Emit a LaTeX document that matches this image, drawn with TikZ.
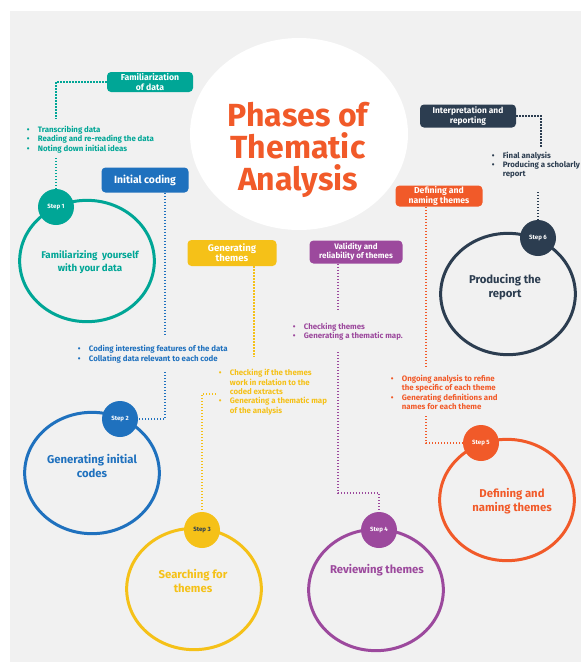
\documentclass[tikz,border=0pt]{standalone}
\usepackage{fontspec}
\setmainfont{Fira Sans}
\usetikzlibrary{shapes.geometric}
\definecolor{bggray}{RGB}{241,241,241}
\definecolor{tealc}{RGB}{0,166,150}
\definecolor{bluec}{RGB}{31,113,190}
\definecolor{yellowc}{RGB}{245,193,24}
\definecolor{purplec}{RGB}{156,73,157}
\definecolor{orangec}{RGB}{241,90,41}
\definecolor{navyc}{RGB}{44,61,80}

\begin{document}
\begin{tikzpicture}[x=0.75pt,y=0.75pt,yscale=-1,xscale=1,
	phase/.style={draw, ellipse, line width=2.25pt, minimum width=101pt, minimum height=91pt, inner sep=0pt},
	stepdot/.style={circle, minimum size=27pt, inner sep=0pt, text=white, font=\fontsize{4.6}{5}\selectfont\bfseries},
	tagbox/.style={rounded corners=3pt, inner sep=0pt, text=white, align=center, font=\fontsize{6.5}{7}\selectfont\bfseries},
	phasetxt/.style={align=center, inner sep=0pt, font=\fontsize{8.5}{10.5}\selectfont\bfseries},
	notes/.style={anchor=west, inner sep=0pt, font=\fontsize{5.9}{7}\selectfont\bfseries},
	dotline/.style={line width=1.1pt, dash pattern={on 1.1pt off 1.15pt}}]
	\useasboundingbox (0,0) rectangle (581,662);

	%Shape: Rectangle [background]
	\fill[bggray] (10,11) rectangle (581,662);
	%Shape: Ellipse [title]
	\node[ellipse, fill=white, minimum width=163.5pt, minimum height=144pt] (titleDisc) at (299,134) {};

	%Shape: Circles [phases]
	\node[phase, draw=tealc] (phase1) at (87,261) {};
	\node[phase, draw=bluec] (phase2) at (92,473) {};
	\node[phase, draw=yellowc] (phase3) at (194,589) {};
	\node[phase, draw=purplec] (phase4) at (376,590) {};
	\node[phase, draw=orangec] (phase5) at (507,500) {};
	\node[phase, draw=navyc] (phase6) at (508,294) {};

	%Shape: Rounded boxes
	\node[tagbox, fill=tealc, minimum width=64.5pt, minimum height=15pt] (famBox) at (150,82) {Familiarization\\of data};
	\node[tagbox, fill=bluec, minimum width=65.25pt, minimum height=18.75pt, font=\fontsize{7.8}{8}\selectfont\bfseries] (codeBox) at (145,180) {Initial coding};
	\node[tagbox, fill=yellowc, minimum width=66.75pt, minimum height=19.5pt, font=\fontsize{7.2}{7.4}\selectfont\bfseries] (genBox) at (232,253) {Generating\\themes};
	\node[tagbox, fill=purplec, minimum width=69.75pt, minimum height=17.25pt, font=\fontsize{6}{6.8}\selectfont\bfseries] (valBox) at (356,252) {Validity and\\reliability of themes};
	\node[tagbox, fill=orangec, minimum width=65.25pt, minimum height=15.75pt] (defBox) at (439,196) {Defining and\\naming themes};
	\node[tagbox, fill=navyc, minimum width=72pt, minimum height=17.25pt, font=\fontsize{6.3}{6.9}\selectfont\bfseries] (repBox) at (468,116) {Interpretation and\\reporting};

	%Shape: Circles [step dots]
	\node[stepdot, fill=tealc] (step1) at (56,207) {Step 1};
	\node[stepdot, fill=bluec] (step2) at (120,419) {Step 2};
	\node[stepdot, fill=yellowc, text=navyc] (step3) at (202,530) {Step 3};
	\node[stepdot, fill=purplec] (step4) at (379,530) {Step 4};
	\node[stepdot, fill=orangec] (step5) at (481,443) {Step 5};
	\node[stepdot, fill=navyc] (step6) at (538,238) {Step 6};

	%Dotted connectors
	\coordinate (famEnd) at (56,119);
	\coordinate (famStart) at (56,158);
	\draw[dotline, tealc] (famBox.west) -| (famEnd);
	\draw[dotline, tealc] (famStart) -- (step1.north);
	\coordinate (codeEnd) at (165,335);
	\coordinate (codeStart) at (165,372);
	\draw[dotline, bluec] (codeBox.south -| codeEnd) -- (codeEnd);
	\draw[dotline, bluec] (codeStart) |- (step2.east);
	\coordinate (genEnd) at (254,357);
	\coordinate (genStart) at (216,394);
	\draw[dotline, yellowc] (genBox.south -| genEnd) -- (genEnd);
	\draw[dotline, yellowc] (genStart) -| (step3.north);
	\coordinate (valEnd) at (338,310);
	\coordinate (valStart) at (338,352);
	\coordinate (valBend) at (338,493);
	\draw[dotline, purplec] (valBox.south -| valEnd) -- (valEnd);
	\draw[dotline, purplec] (valStart) -- (valBend) -| (step4.north);
	\coordinate (defEnd) at (426,367);
	\coordinate (defStart) at (426,416);
	\draw[dotline, orangec] (defBox.south -| defEnd) -- (defEnd);
	\draw[dotline, orangec] (defStart) |- (step5.west);
	\coordinate (repEnd) at (541,148);
	\coordinate (repStart) at (538,192);
	\draw[dotline, navyc] (repBox.east) -| (repEnd);
	\draw[dotline, navyc] (repStart) -- (step6.north);

	% Text Node [title]
	\node[align=center, inner sep=0pt, text=orangec, font=\fontsize{24}{24}\selectfont\bfseries] (title) at (298,150) {Phases of\\Thematic\\Analysis};

	% Text Nodes [phases]
	\node[phasetxt, text=tealc, font=\fontsize{7.3}{10}\selectfont\bfseries] (phase1Txt) at (90,262) {Familiarizing\ \ yourself\\with your data};
	\node[phasetxt, text=bluec] (phase2Txt) at (92,466) {Generating initial\\codes};
	\node[phasetxt, text=yellowc] (phase3Txt) at (193,581) {Searching for\\themes};
	\node[phasetxt, text=purplec] (phase4Txt) at (377,570) {Reviewing themes};
	\node[phasetxt, text=orangec] (phase5Txt) at (512,501) {Defining and\\naming themes};
	\node[phasetxt, text=navyc] (phase6Txt) at (505,287) {Producing the\\report};

	% Text Nodes [notes]
	\node[notes, text=tealc] (famList) at (26.5,140) {\begin{tabular}{@{}l@{\hspace{6.3pt}}l@{}}
		\textbullet & Transcribing data\\
		\textbullet & Reading and re-reading the data\\
		\textbullet & Noting down initial ideas
	\end{tabular}};
	\node[notes, text=bluec] (codeList) at (77.5,354.5) {\begin{tabular}{@{}l@{\hspace{6.3pt}}l@{}}
		\textbullet & Coding interesting features of the data\\
		\textbullet & Collating data relevant to each code
	\end{tabular}};
	\node[notes, text=yellowc] (genList) at (218.5,392.5) {\begin{tabular}{@{}l@{\hspace{6.3pt}}l@{}}
		\textbullet & Checking if the themes\\
		 & work in relation to the\\
		 & coded extracts\\
		\textbullet & Generating a thematic map\\
		 & of the analysis
	\end{tabular}};
	\node[notes, text=purplec] (valList) at (292.5,332) {\begin{tabular}{@{}l@{\hspace{6.3pt}}l@{}}
		\textbullet & Checking themes\\
		\textbullet & Generating a thematic map.
	\end{tabular}};
	\node[notes, text=orangec] (defList) at (390.5,393.5) {\begin{tabular}{@{}l@{\hspace{6.3pt}}l@{}}
		\textbullet & Ongoing analysis to refine\\
		 & the specific of each theme\\
		\textbullet & Generating definitions and\\
		 & names for each theme
	\end{tabular}};
	\node[notes, text=navyc] (repList) at (491.5,165.5) {\begin{tabular}{@{}l@{\hspace{6.3pt}}l@{}}
		\textbullet & Final analysis\\
		\textbullet & Producing a scholarly\\
		 & report
	\end{tabular}};

\end{tikzpicture}
\end{document}
